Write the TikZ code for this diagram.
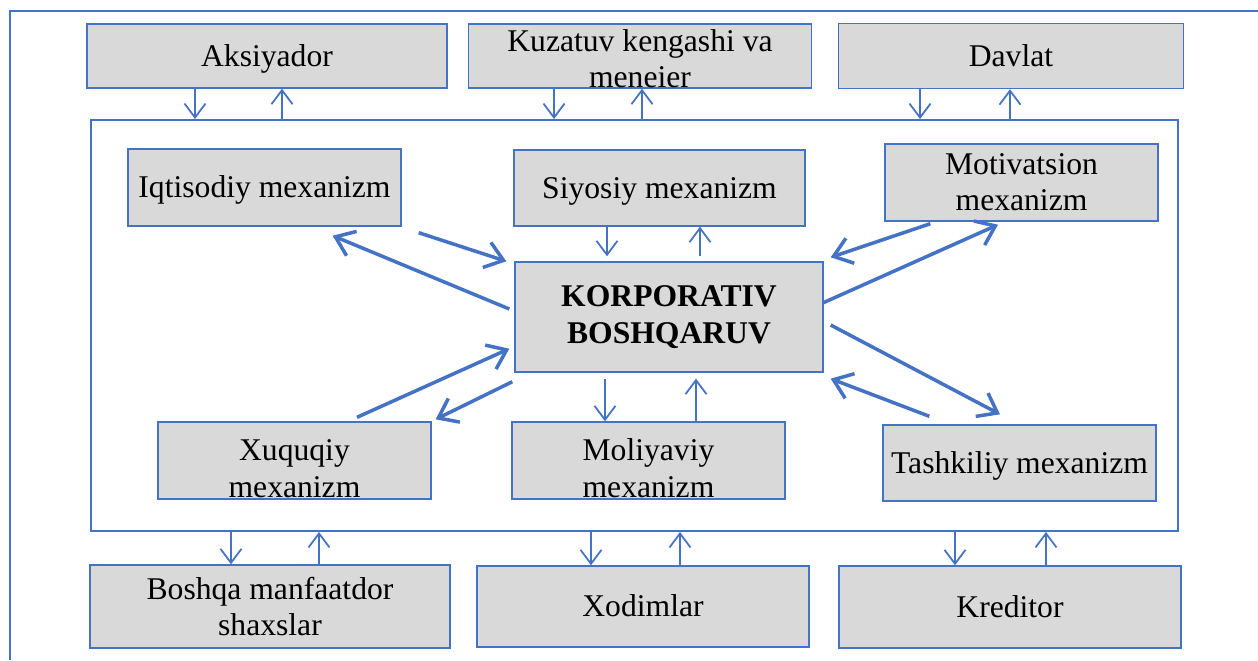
\documentclass[tikz,border=0pt]{standalone}
\usepackage{fontspec}
\setmainfont{Liberation Serif}
\usepackage{tikz}
\definecolor{MyBlue}{HTML}{4472C4}
\definecolor{MyGray}{HTML}{D9D9D9}
\usetikzlibrary{arrows.meta,positioning,calc}
\tikzset{%
  party/.style={draw=MyBlue, fill=MyGray, line width=0.8pt, align=center, inner sep=0pt,
    font=\fontsize{18pt}{20.5pt}\selectfont},
  sz/.style n args={2}{minimum width=#1, minimum height=#2},
  oneline/.style={text height=0.55cm, text depth=0.14cm},
  frame/.style={draw=MyBlue, line width=1.1pt},
  vlink/.style={-{Straight Barb[length=8pt,width=12pt]}, draw=MyBlue, line width=1pt},
  dlink/.style={-{Straight Barb[length=10pt,width=15pt]}, draw=MyBlue, line width=2pt}
}

\begin{document}
\begin{tikzpicture}[x=0.02cm, y=-0.02cm]

 \useasboundingbox (0,0) rectangle (1258,660);
 \draw[frame] (10,660) -- (10,11) -- (1258,11);

 % outside parties
 \node[party, oneline, sz={7.2cm}{1.28cm}] (aks) at (267,56) {Aksiyador};
 \node[party, sz={6.86cm}{1.28cm}, text height=1.28cm, text depth=0pt] (kuz) at (640,56) {Kuzatuv kengashi va\\meneier};
 \node[party, oneline, sz={6.9cm}{1.3cm}] (dav) at (1011,56) {Davlat};

 \node[party, sz={7.2cm}{1.66cm}] (bos) at (270,606.5) {Boshqa manfaatdor\\shaxslar};
 \node[party, oneline, sz={6.64cm}{1.62cm}] (xod) at (643,606.5) {Xodimlar};
 \node[party, oneline, sz={6.84cm}{1.64cm}] (kre) at (1010,607) {Kreditor};

 % mechanisms
 \node[frame, minimum width=21.74cm, minimum height=8.22cm, inner sep=0pt] (core) at (634.5,325.5) {};

 \node[party, oneline, sz={5.46cm}{1.54cm}] (iqt) at (264.5,187.5) {Iqtisodiy mexanizm};
 \node[party, oneline, sz={5.82cm}{1.52cm}] (siy) at (659.5,188) {Siyosiy mexanizm};
 \node[party, sz={5.46cm}{1.54cm}] (mot) at (1021.5,182.5) {Motivatsion\\mexanizm};
 \node[party, sz={6.16cm}{2.2cm}, font=\fontsize{18pt}{21pt}\selectfont\bfseries] (korp) at (669,317) {KORPORATIV\\BOSHQARUV};
 \node[party, sz={5.46cm}{1.54cm}, text height=1.46cm, text depth=0pt] (xuq) at (294.5,460.5) {Xuquqiy\\mexanizm};
 \node[party, sz={5.46cm}{1.54cm}, text height=1.46cm, text depth=0pt] (mol) at (648.5,460.5) {Moliyaviy\\mexanizm};
 \node[party, oneline, sz={5.46cm}{1.52cm}] (tash) at (1019.5,463) {Tashkiliy mexanizm};

 \foreach \n/\d/\u in {aks/195/282, kuz/554/642, dav/920/1010} {
   \draw[vlink] (\n.south -| \d,0) -- (core.north -| \d,0);
   \draw[vlink] (core.north -| \u,0) -- (\n.south -| \u,0);
 }
 \foreach \n/\d/\u in {bos/231/319, xod/591/680, kre/955/1046} {
   \draw[vlink] (core.south -| \d,0) -- (\n.north -| \d,0);
   \draw[vlink] (\n.north -| \u,0) -- (core.south -| \u,0);
 }

 \draw[vlink, shorten >=0.1cm] (siy.south -| 607,0) -- (korp.north -| 607,0);
 \draw[vlink, shorten <=0.1cm] (korp.north -| 700,0) -- (siy.south -| 700,0);
 \draw[vlink, shorten <=0.12cm] (korp.south -| 605,0) -- (mol.north -| 605,0);
 \draw[vlink, shorten >=0.12cm] (mol.north -| 696,0) -- (korp.south -| 696,0);

 \draw[dlink] ([shift={(17,6)}]iqt.south east) -- ([shift={(-8,0)}]korp.north west);
 \draw[dlink] ([shift={(-5,-8)}]korp.west) -- ([shift={(-69,9)}]iqt.south east);
 \draw[dlink] ([shift={(46,2)}]mot.south west) -- ([shift={(7,-4)}]korp.north east);
 \draw[dlink] ([shift={(-1,-14)}]korp.east) -- ([shift={(-23.5,3)}]mot.south);
 \draw[dlink] ([shift={(7,8)}]korp.east) -- ([shift={(-19.5,-10)}]tash.north);
 \draw[dlink] ([shift={(47,-8)}]tash.north west) -- ([shift={(7,6)}]korp.south east);
 \draw[dlink] ([shift={(62.5,-4)}]xuq.north) -- ([shift={(-5,-24)}]korp.south west);
 \draw[dlink] ([shift={(-2,9)}]korp.south west) -- ([shift={(4,-2)}]xuq.north east);

\end{tikzpicture}
\end{document}
